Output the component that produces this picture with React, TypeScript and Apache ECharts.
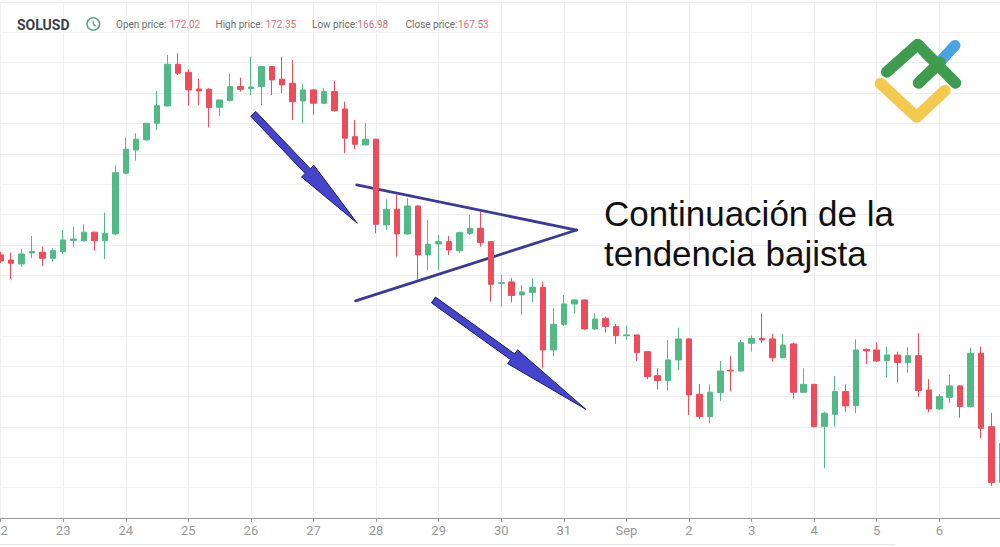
import React, { useEffect, useRef } from "react";
import * as echarts from "echarts";

// ---- data ----
const START_UTC = Date.UTC(2024, 7, 22, 0, 0); // 22 Aug, 4h candles
const STEP_MS = 4 * 3600 * 1000;
const CANDLES_PER_DAY = 6;

const dayLabels = ["22", "23", "24", "25", "26", "27", "28", "29", "30", "31", "Sep", "2", "3", "4", "5", "6", "7"];

// [open, close, low, high]
const candles: [number, number, number, number][] = [
  [146.67, 146.17, 146.01, 146.91],
  [146.25, 145.98, 144.66, 146.85],
  [145.92, 146.75, 145.7, 147.14],
  [146.83, 146.95, 146.39, 148.23],
  [146.89, 146.39, 145.76, 147.35],
  [146.39, 147.02, 146.11, 147.22],
  [146.94, 147.9, 146.75, 148.72],
  [147.86, 147.98, 147.35, 149.0],
  [147.84, 148.54, 147.76, 149.19],
  [148.54, 147.84, 147.02, 148.6],
  [147.84, 148.45, 146.34, 150.15],
  [148.4, 153.44, 148.3, 154.05],
  [153.4, 155.37, 153.3, 156.33],
  [155.31, 156.2, 154.43, 156.69],
  [156.14, 157.51, 156.1, 157.55],
  [157.51, 158.96, 156.96, 160.17],
  [158.94, 162.37, 158.9, 163.14],
  [162.37, 161.63, 161.49, 163.28],
  [161.71, 160.26, 158.96, 161.96],
  [160.34, 160.17, 159.02, 161.16],
  [160.31, 158.8, 157.18, 160.4],
  [158.83, 159.43, 158.12, 159.45],
  [159.38, 160.53, 159.29, 161.57],
  [160.53, 160.31, 160.12, 161.27],
  [160.36, 160.5, 159.84, 163.0],
  [160.53, 162.18, 159.02, 162.22],
  [162.18, 161.08, 159.84, 162.22],
  [161.14, 160.67, 159.99, 163.0],
  [160.81, 159.29, 157.79, 162.73],
  [159.35, 160.26, 157.51, 160.75],
  [160.26, 159.16, 158.2, 160.3],
  [159.16, 160.12, 159.1, 160.4],
  [160.12, 158.55, 158.47, 161.0],
  [158.69, 156.28, 155.04, 159.29],
  [156.41, 155.78, 155.37, 157.79],
  [155.73, 156.2, 155.7, 157.51],
  [156.2, 149.19, 148.45, 156.25],
  [149.14, 150.43, 148.72, 151.25],
  [150.43, 148.4, 146.53, 151.61],
  [148.4, 150.7, 148.31, 151.34],
  [150.7, 146.67, 144.61, 150.75],
  [146.67, 147.55, 145.43, 149.55],
  [147.57, 147.76, 145.43, 148.31],
  [147.76, 147.08, 146.67, 148.23],
  [147.02, 148.5, 146.81, 148.59],
  [148.45, 148.86, 148.31, 149.96],
  [148.86, 147.68, 147.35, 150.23],
  [147.76, 144.25, 142.82, 147.8],
  [144.33, 144.38, 142.41, 145.02],
  [144.44, 143.33, 142.75, 144.75],
  [143.37, 143.62, 141.72, 144.19],
  [143.58, 144.0, 142.79, 144.73],
  [144.0, 138.84, 137.33, 144.47],
  [138.84, 140.96, 138.34, 142.27],
  [140.96, 142.63, 140.82, 143.37],
  [142.63, 142.96, 141.89, 143.0],
  [142.96, 140.57, 140.5, 143.0],
  [140.57, 141.39, 140.5, 141.86],
  [141.45, 140.76, 140.27, 141.58],
  [140.76, 140.02, 139.34, 140.98],
  [140.02, 140.08, 139.66, 140.84],
  [140.08, 138.62, 137.93, 140.1],
  [138.7, 136.64, 136.43, 138.75],
  [136.72, 136.31, 135.6, 137.33],
  [136.31, 138.02, 135.49, 139.66],
  [138.02, 139.75, 137.19, 140.68],
  [139.75, 135.13, 133.49, 139.8],
  [135.19, 133.35, 133.13, 136.04],
  [133.35, 135.36, 132.8, 136.01],
  [135.32, 137.11, 134.64, 137.93],
  [137.17, 137.11, 135.42, 138.34],
  [137.11, 139.44, 137.05, 139.66],
  [139.39, 139.8, 138.7, 140.02],
  [139.8, 139.66, 139.39, 141.86],
  [139.75, 138.2, 137.88, 140.16],
  [138.2, 139.25, 138.15, 140.16],
  [139.34, 135.36, 134.86, 139.44],
  [135.36, 136.01, 135.3, 137.33],
  [136.01, 132.52, 132.47, 136.05],
  [132.55, 133.63, 129.09, 133.76],
  [133.54, 135.41, 132.52, 136.7],
  [135.41, 134.23, 133.76, 136.01],
  [134.25, 138.84, 133.63, 139.72],
  [138.88, 138.76, 137.69, 138.98],
  [138.84, 137.93, 137.88, 139.47],
  [137.96, 138.43, 136.59, 139.11],
  [138.43, 137.8, 136.18, 138.7],
  [137.8, 138.37, 136.97, 139.06],
  [138.37, 135.49, 134.99, 140.22],
  [135.55, 133.98, 133.71, 136.43],
  [133.98, 135.0, 133.93, 135.22],
  [134.94, 135.88, 134.45, 136.84],
  [135.88, 134.17, 133.26, 135.92],
  [134.17, 138.57, 134.12, 139.03],
  [138.57, 132.39, 131.57, 139.11],
  [132.52, 127.91, 127.64, 133.67],
  [127.91, 131.15, 127.8, 131.5],
];

const pad = (n: number) => (n < 10 ? "0" + n : "" + n);
const categories = candles.map((_, i) => {
  const d = new Date(START_UTC + i * STEP_MS);
  return `${pad(d.getUTCMonth() + 1)}-${pad(d.getUTCDate())} ${pad(d.getUTCHours())}:00`;
});

const priceMin = 125;
const priceMax = 167.5;
const priceStep = 2.5;

const headerSymbol = "SOLUSD";
const headerFields = [
  { label: "Open price:", value: "172.02", x: 116, vx: 169.5 },
  { label: "High price:", value: "172.35", x: 215.5, vx: 265.5 },
  { label: "Low price:", value: "166.98", x: 312, vx: 357.5 },
  { label: "Close price:", value: "167.53", x: 405.5, vx: 458 },
];

// annotation anchors in data coordinates: [candle index, price]
const triangleUpper = [[34.14, 152.43], [55.23, 148.72]];
const triangleLower = [[34.04, 142.88], [55.23, 148.72]];
const arrowsData = [
  { from: [24.23, 158.28], to: [34.2, 149.28], head: 72 },
  { from: [41.5, 142.96], to: [56.1, 133.96], head: 90 },
];
const noteLines = ["Continuación de la", "tendencia bajista"];

const GREEN = "#53b987";
const RED = "#eb4d5c";

export default function App() {
  const ref = useRef<HTMLDivElement>(null);

  useEffect(() => {
    if (!ref.current) return;
    const chart = echarts.init(ref.current, undefined, { renderer: "svg" });
    const lastIdx = candles.length - 1;

    chart.setOption({
      animation: false,
      backgroundColor: "#ffffff",
      grid: {
        left: 0.6,
        right: -1.9,
        top: 2,
        bottom: 29,
        containLabel: false,
        outerBoundsMode: "none",
      },
      xAxis: {
        type: "category",
        data: categories,
        boundaryGap: false,
        axisLine: { show: true, lineStyle: { color: "#9a9a9a", width: 1 } },
        axisTick: {
          show: true,
          length: 4,
          interval: (i: number) => i % CANDLES_PER_DAY === 0,
          lineStyle: { color: "#9a9a9a" },
        },
        axisLabel: {
          show: true,
          interval: (i: number) => i % CANDLES_PER_DAY === 0 && i < lastIdx,
          formatter: (_v: string, i: number) => dayLabels[Math.floor(i / CANDLES_PER_DAY)] ?? "",
          color: "#999999",
          fontSize: 13,
          fontFamily: "Roboto",
          margin: 6,
          hideOverlap: false,
        },
        splitLine: {
          show: true,
          interval: (i: number) => i % CANDLES_PER_DAY === 0,
          lineStyle: { color: "#efefef", width: 1 },
        },
      },
      yAxis: {
        type: "value",
        min: priceMin,
        max: priceMax,
        interval: priceStep,
        axisLine: { show: false },
        axisTick: { show: false },
        axisLabel: { show: false },
        splitLine: { show: true, lineStyle: { color: "#efefef", width: 1 } },
      },
      series: [
        {
          type: "candlestick",
          data: candles,
          barWidth: 6,
          itemStyle: {
            color: GREEN,
            color0: RED,
            borderColor: GREEN,
            borderColor0: RED,
            borderWidth: 1,
          },
        },
      ],
    });

    // pixel helpers through the chart's own axes
    const p0 = chart.convertToPixel({ gridIndex: 0 }, [0, priceMin]) as number[];
    const pN = chart.convertToPixel({ gridIndex: 0 }, [lastIdx, priceMin]) as number[];
    const px = (idx: number) => p0[0] + (idx * (pN[0] - p0[0])) / lastIdx;
    const py = (price: number) => chart.convertToPixel({ yAxisIndex: 0 }, price) as number;
    const pt = (d: number[]) => [px(d[0]), py(d[1])];

    const arrowPolys = arrowsData.map((a) => {
      const A = pt(a.from);
      const B = pt(a.to);
      const dx = B[0] - A[0];
      const dy = B[1] - A[1];
      const L = Math.hypot(dx, dy);
      const ux = dx / L;
      const uy = dy / L;
      const nx = -uy;
      const ny = ux;
      const w = 3.5;
      const hw = 8.5;
      const C = [B[0] - ux * a.head, B[1] - uy * a.head];
      return [
        [A[0] + nx * w, A[1] + ny * w],
        [C[0] + nx * w, C[1] + ny * w],
        [C[0] + nx * hw, C[1] + ny * hw],
        [B[0], B[1]],
        [C[0] - nx * hw, C[1] - ny * hw],
        [C[0] - nx * w, C[1] - ny * w],
        [A[0] - nx * w, A[1] - ny * w],
      ];
    });

    const graphics: any[] = [];

    // header
    graphics.push({
      type: "text",
      x: 17,
      y: 24.5,
      style: {
        text: headerSymbol,
        fill: "#3b404b",
        fontSize: 14,
        fontWeight: "bold",
        fontFamily: "Roboto",
        verticalAlign: "middle",
        align: "left",
      },
    });
    graphics.push({
      type: "circle",
      shape: { cx: 93.3, cy: 24, r: 6.3 },
      style: { fill: "none", stroke: "#5aa787", lineWidth: 1.5 },
    });
    graphics.push({
      type: "polyline",
      shape: { points: [[93.3, 20.5], [93.3, 24.3], [96, 26.3]] },
      style: { fill: "none", stroke: "#5aa787", lineWidth: 1.3 },
    });
    headerFields.forEach((f) => {
      graphics.push({
        type: "text",
        x: f.x,
        y: 24.5,
        style: { text: f.label, fill: "#6f6f6f", fontSize: 10, fontFamily: "Roboto", verticalAlign: "middle", align: "left" },
      });
      graphics.push({
        type: "text",
        x: f.vx,
        y: 24.5,
        style: { text: f.value, fill: "#d8707c", fontSize: 10, fontFamily: "Roboto", verticalAlign: "middle", align: "left" },
      });
    });

    // logo
    graphics.push({
      type: "polyline",
      shape: { points: [[940, 61.7], [955, 45.5]] },
      style: { fill: "none", stroke: "#4aa3e3", lineWidth: 11, lineCap: "round", lineJoin: "round" },
    });
    graphics.push({
      type: "polyline",
      shape: { points: [[886.7, 72], [917.7, 44.5], [955.5, 83]] },
      style: { fill: "none", stroke: "#3f9b4e", lineWidth: 11.5, lineCap: "round", lineJoin: "round" },
    });
    graphics.push({
      type: "polyline",
      shape: { points: [[918.5, 83], [940, 62.5]] },
      style: { fill: "none", stroke: "#3f9b4e", lineWidth: 11.5, lineCap: "round", lineJoin: "round" },
    });
    graphics.push({
      type: "polyline",
      shape: { points: [[880.5, 83.5], [916.7, 117], [945, 90.5]] },
      style: { fill: "none", stroke: "#f3c94f", lineWidth: 11.5, lineCap: "round", lineJoin: "round" },
    });

    // triangle
    [triangleUpper, triangleLower].forEach((seg) => {
      const a = pt(seg[0]);
      const b = pt(seg[1]);
      graphics.push({
        type: "line",
        shape: { x1: a[0], y1: a[1], x2: b[0], y2: b[1] },
        style: { stroke: "#3b3b92", lineWidth: 2.8, lineCap: "round" },
      });
    });

    // arrows
    arrowPolys.forEach((pts) => {
      graphics.push({
        type: "polygon",
        shape: { points: pts },
        style: { fill: "#4545cc", stroke: "#1e1e5c", lineWidth: 1, lineJoin: "miter" },
      });
    });

    // note
    noteLines.forEach((t, i) => {
      graphics.push({
        type: "text",
        x: 604,
        y: 213 + i * 40,
        style: {
          text: t,
          fill: "#111111",
          fontSize: 35,
          fontFamily: "Liberation Sans, Arial, sans-serif",
          verticalAlign: "middle",
          align: "left",
        },
      });
    });

    // bottom border line
    graphics.push({
      type: "line",
      shape: { x1: 0, y1: 544.5, x2: 895, y2: 544.5 },
      style: { stroke: "#e4e4e4", lineWidth: 1 },
    });

    chart.setOption({ graphic: graphics });

    return () => chart.dispose();
  }, []);

  return (
    <div
      ref={ref}
      style={{ position: "absolute", left: 0, top: 0, width: 1000, height: 547 }}
    />
  );
}
